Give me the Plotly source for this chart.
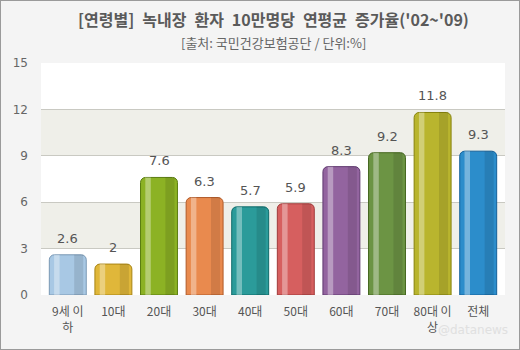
import plotly.graph_objects as go

# Average annual increase of glaucoma patients per 100k, by age group ('02~'09)
categories = ["9세 이<br>하", "10대", "20대", "30대", "40대", "50대", "60대", "70대", "80대 이<br>상", "전체"]
values = [2.6, 2.0, 7.6, 6.3, 5.7, 5.9, 8.3, 9.2, 11.8, 9.3]
value_labels = ["2.6", "2", "7.6", "6.3", "5.7", "5.9", "8.3", "9.2", "11.8", "9.3"]
bar_colors = ["#a8c8e4", "#e0b73a", "#8cb224", "#e98a4e", "#2b9b9a",
              "#d65f5f", "#93649f", "#6c9444", "#b9b52e", "#2c8dcb"]
edge_colors = ["#7a98b4", "#a88414", "#5a7c10", "#b05a28", "#0e6a6a",
               "#a03a3a", "#603a70", "#44661e", "#86820c", "#14609a"]
y_ticks = [0, 3, 6, 9, 12, 15]

KR = "Noto Sans CJK KR, Noto Sans, sans-serif"
NUM = "DejaVu Sans, Verdana, sans-serif"
SP = "\u2002"  # wide word spacing in the heading

fig = go.Figure()

# main bars
fig.add_trace(go.Bar(
    x=categories, y=values, width=0.81,
    marker=dict(color=bar_colors, line=dict(color=edge_colors, width=1),
                cornerradius=5),
    hoverinfo="skip", showlegend=False,
))
# glossy highlight strip on each bar
fig.add_trace(go.Bar(
    x=categories, y=values, width=0.12, offset=-0.3,
    marker=dict(color="rgba(255,255,255,0.35)", line=dict(width=0)),
    hoverinfo="skip", showlegend=False,
))
# darker shade on the right side
fig.add_trace(go.Bar(
    x=categories, y=values, width=0.2, offset=0.14,
    marker=dict(color="rgba(0,0,0,0.10)", line=dict(width=0)),
    hoverinfo="skip", showlegend=False,
))

shapes = []
# alternating background bands
for lo, hi in [(3, 6), (9, 12)]:
    shapes.append(dict(type="rect", xref="paper", yref="y", x0=0, x1=1, y0=lo, y1=hi,
                       fillcolor="#efefe9", line=dict(width=0), layer="below"))
# outer frame
shapes.append(dict(type="rect", xref="paper", yref="paper", x0=-41/464, x1=1+15/464,
                   y0=-55/232, y1=1+63/232,
                   line=dict(color="#9a9a9a", width=2), fillcolor="rgba(0,0,0,0)"))

title_text = SP.join(["[연령별]", "녹내장", "환자", "10만명당", "연평균", "증가율('02~'09)"])

annotations = [
    dict(x=c, y=v, text=t, showarrow=False, yanchor="bottom", yshift=7,
         font=dict(family=NUM, size=13, color="#555555"))
    for c, v, t in zip(categories, values, value_labels)
]
annotations += [
    dict(xref="paper", yref="paper", x=(273 - 41) / 464, y=1 + (63 - 19) / 232,
         text="<b>" + title_text + "</b>",
         showarrow=False, yanchor="middle", xanchor="center",
         font=dict(family=KR, size=16, color="#5a5a5a")),
    dict(xref="paper", yref="paper", x=(273 - 41) / 464, y=1 + (63 - 43) / 232,
         text="[출처: 국민건강보험공단 / 단위:%]",
         showarrow=False, yanchor="middle", xanchor="center",
         font=dict(family=KR, size=13, color="#666666")),
    dict(xref="paper", yref="paper", x=(510 - 41) / 464, y=-(330 - 295) / 232,
         text="@datanews", showarrow=False, xanchor="right", yanchor="middle",
         font=dict(family=NUM, size=12, color="#e0e0e0")),
]

fig.update_layout(
    width=520, height=350,
    margin=dict(l=41, r=15, t=63, b=55),
    paper_bgcolor="#f4f4f4", plot_bgcolor="#ffffff",
    barmode="overlay", bargap=0.19,
    shapes=shapes, annotations=annotations,
    xaxis=dict(range=[-0.5875, 9.5875], showgrid=False, zeroline=False, showline=False,
               ticks="", ticklabelstandoff=8,
               tickfont=dict(family=KR, size=12, color="#555555")),
    yaxis=dict(range=[0, 15], tickvals=y_ticks, showgrid=True, gridcolor="#c9c9c2",
               gridwidth=1, zeroline=False, showline=False, ticks="",
               ticklabelstandoff=12,
               tickfont=dict(family=NUM, size=12, color="#666666")),
)

fig.write_html("out.html")
